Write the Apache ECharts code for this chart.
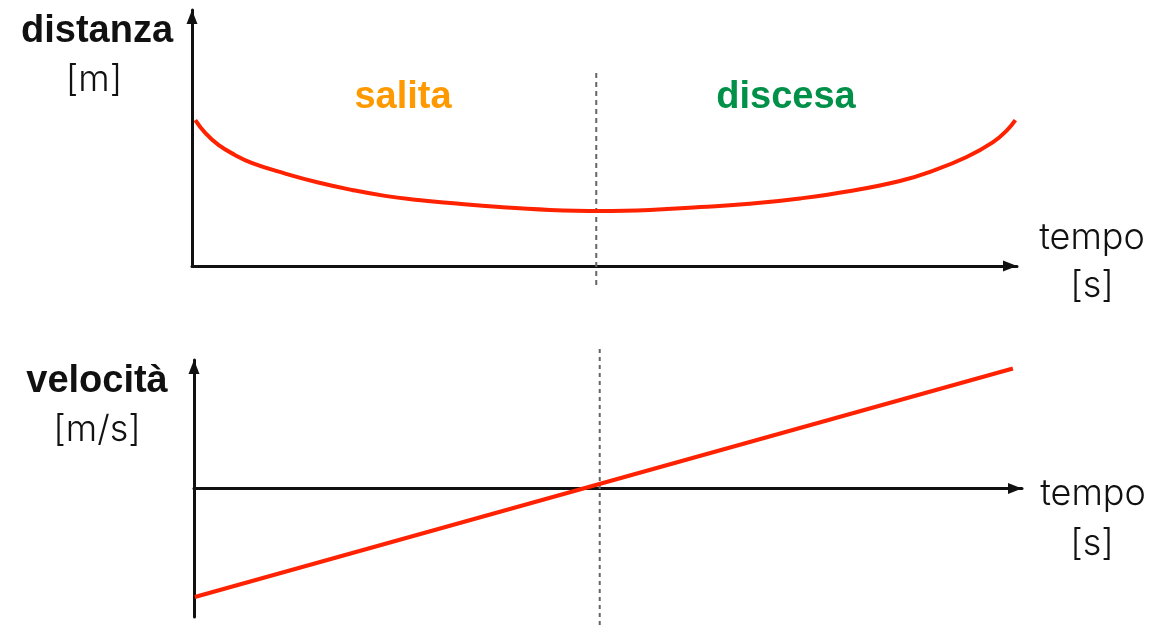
<!DOCTYPE html>
<html>
<head>
<meta charset="utf-8">
<script src="https://cdn.jsdelivr.net/npm/echarts@6/dist/echarts.min.js"></script>
<style>
    html, body { margin: 0; padding: 0; background: #fff; }
    #main { width: 1166px; height: 625px; }
</style>
</head>
<body>
<div id="main"></div>
<script>
// distanza [m] vs tempo [s]
var distTime = [0.04, 0.16, 0.32, 0.52, 0.73, 1.13, 1.53, 1.94, 2.34, 2.74, 3.13, 3.73, 4.34, 4.95,
    5.55, 6.16, 6.76, 7.37, 7.98, 8.58, 8.98, 9.39, 9.71, 9.88, 9.98];
var distValue = [5.70, 5.20, 4.73, 4.34, 4.02, 3.61, 3.26, 2.97, 2.74, 2.58, 2.46, 2.30, 2.19, 2.15,
    2.19, 2.30, 2.43, 2.64, 2.93, 3.32, 3.72, 4.26, 4.84, 5.31, 5.70];
// velocità [m/s] vs tempo [s]
var velTime = [0.01, 9.89];
var velValue = [-8.44, 9.34];
// istante di inversione (salita -> discesa)
var turnTime = 4.9;

var lightFont = 'Inter, Roboto, "Liberation Sans", sans-serif';
var boldFont = '"Liberation Sans", Arial, sans-serif';

function pairs(xs, ys) {
    var out = [];
    for (var i = 0; i < xs.length; i++) {
        out.push([xs[i], ys[i]]);
    }
    return out;
}

function arrowAxisLine() {
    return {
        show: true,
        symbol: ['none', 'triangle'],
        symbolSize: [11, 14],
        symbolOffset: [0, -7],
        lineStyle: { color: '#111', width: 3 }
    };
}

function hiddenAxis(type, grid, min, max) {
    return {
        type: type, gridIndex: grid, min: min, max: max,
        show: false
    };
}

function label(text, x, y, bold, color) {
    return {
        type: 'text', x: x, y: y,
        style: {
            text: text,
            fill: color || '#111',
            font: (bold ? 'bold 38px ' + boldFont : '300 36px ' + lightFont),
            textAlign: 'center',
            textVerticalAlign: 'middle'
        }
    };
}

var myChart = echarts.init(document.getElementById('main'));

var option = {
    animation: false,
    backgroundColor: '#fff',
    grid: [
        { left: 192, top: 10, width: 825, height: 256 },
        { left: 194, top: 360, width: 828, height: 257 },
        { left: 192, top: 73, width: 825, height: 212 },
        { left: 194, top: 346, width: 828, height: 279 }
    ],
    xAxis: [
        {
            type: 'value', gridIndex: 0, min: 0, max: 10,
            axisLine: arrowAxisLine(),
            axisTick: { show: false }, axisLabel: { show: false }, splitLine: { show: false }
        },
        {
            type: 'value', gridIndex: 1, min: 0, max: 10,
            axisLine: arrowAxisLine(),
            axisTick: { show: false }, axisLabel: { show: false }, splitLine: { show: false }
        },
        hiddenAxis('value', 2, 0, 10),
        hiddenAxis('value', 3, 0, 10)
    ],
    yAxis: [
        {
            type: 'value', gridIndex: 0, min: 0, max: 10,
            axisLine: arrowAxisLine(),
            axisTick: { show: false }, axisLabel: { show: false }, splitLine: { show: false }
        },
        {
            type: 'value', gridIndex: 1, min: -10, max: 10,
            axisLine: arrowAxisLine(),
            axisTick: { show: false }, axisLabel: { show: false }, splitLine: { show: false }
        },
        hiddenAxis('value', 2, 0, 1),
        hiddenAxis('value', 3, 0, 1)
    ],
    series: [
        {
            name: 'inversione distanza',
            type: 'line', xAxisIndex: 2, yAxisIndex: 2,
            data: [[turnTime, 0], [turnTime, 1]],
            showSymbol: false, silent: true, z: 1,
            lineStyle: { color: '#666', width: 2, type: [5, 4] }
        },
        {
            name: 'inversione velocità',
            type: 'line', xAxisIndex: 3, yAxisIndex: 3,
            data: [[turnTime, 0], [turnTime, 1]],
            showSymbol: false, silent: true, z: 1,
            lineStyle: { color: '#666', width: 2, type: [4, 4] }
        },
        {
            name: 'distanza',
            type: 'line', xAxisIndex: 0, yAxisIndex: 0,
            data: pairs(distTime, distValue),
            smooth: 0.45, showSymbol: false, z: 3,
            lineStyle: { color: '#ff2200', width: 4 }
        },
        {
            name: 'velocità',
            type: 'line', xAxisIndex: 1, yAxisIndex: 1,
            data: pairs(velTime, velValue),
            showSymbol: false, z: 3,
            lineStyle: { color: '#ff2200', width: 4 }
        }
    ],
    graphic: [
        label('distanza', 97, 32, true),
        label('[m]', 94, 80, false),
        label('velocità', 97, 382, true),
        label('[m/s]', 97, 430, false),
        label('tempo', 1092, 238, false),
        label('[s]', 1092, 286, false),
        label('tempo', 1093, 494, false),
        label('[s]', 1092, 544, false),
        label('salita', 403, 98, true, '#ff9900'),
        label('discesa', 786, 98, true, '#009048')
    ]
};

myChart.setOption(option);
</script>
</body>
</html>
